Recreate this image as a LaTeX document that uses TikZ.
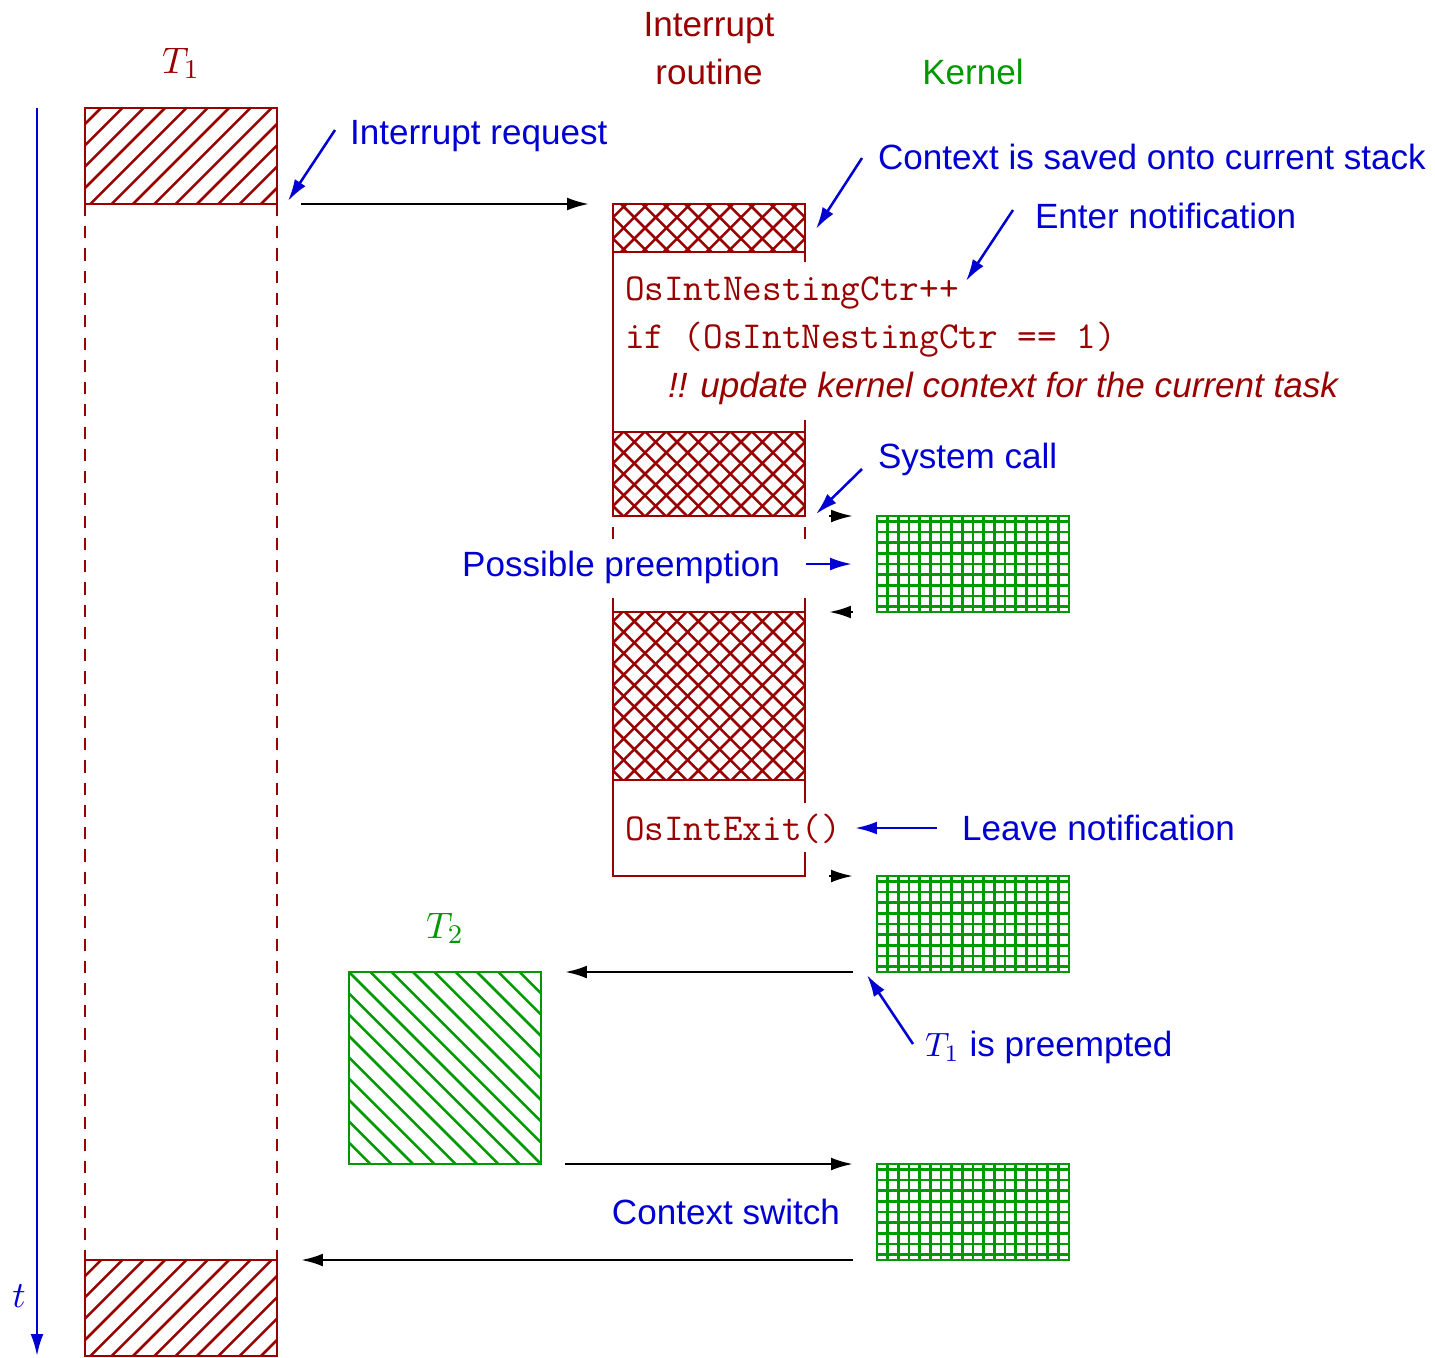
\documentclass[tikz,border=0pt]{standalone}
\usepackage[no-math]{fontspec}
\newfontfamily\labelfont{Liberation Sans}
\usetikzlibrary{arrows.meta,calc}

\definecolor{irqred}{RGB}{153,0,0}
\definecolor{kergreen}{RGB}{0,153,0}
\definecolor{noteblue}{RGB}{0,0,210}

% hatch fillers, drawn inside a node's path picture (coordinates in px, y downwards)
\newcommand\risinglines[1]{%
  \foreach \k in {-12,...,12}{%
    \draw[#1,line width=0.75pt,shift={(path picture bounding box.center)}]
      (\k*21.33-150,150) -- (\k*21.33+150,-150);}}
\newcommand\fallinglines[1]{%
  \foreach \k in {-12,...,12}{%
    \draw[#1,line width=0.75pt,shift={(path picture bounding box.center)}]
      (\k*21.33-150,-150) -- (\k*21.33+150,150);}}
\newcommand\gridlines[1]{%
  \foreach \k in {-10,...,10}{%
    \draw[#1,line width=0.75pt,shift={(path picture bounding box.center)}]
      (\k*10.667,-110) -- (\k*10.667,110);
    \draw[#1,line width=0.75pt,shift={(path picture bounding box.center)}]
      (-110,\k*10.667) -- (110,\k*10.667);}}

\tikzset{
  every node/.style={inner sep=0pt, outer sep=0pt},
  lbl/.style={font=\labelfont\fontsize{10.4}{12.5}\selectfont},
  note/.style={lbl, text=noteblue},
  slanted/.style={font=\labelfont\itshape\fontsize{10.4}{12.5}\selectfont, text=irqred},
  code/.style={font=\ttfamily\fontsize{11.3}{13}\selectfont, text=irqred},
  mathlbl/.style={font=\fontsize{11}{13}\selectfont},
  tip/.style={-{Latex[length=6.5pt,width=3.8pt]}},
  flow/.style={tip, line width=0.75pt, black},
  pointer/.style={tip, line width=0.75pt, noteblue},
  taskbox/.style={draw=irqred, line width=0.85pt, minimum width=2cm, minimum height=1cm,
    path picture={\risinglines{irqred}}},
  isrbox/.style={draw=irqred, line width=0.85pt, minimum width=2cm,
    path picture={\risinglines{irqred}\fallinglines{irqred}}},
  kernelbox/.style={draw=kergreen, line width=0.85pt, minimum width=2cm, minimum height=1cm,
    path picture={\gridlines{kergreen}}},
  otherbox/.style={draw=kergreen, line width=0.85pt, minimum width=2cm, minimum height=2cm,
    path picture={\fallinglines{kergreen}}},
  edge/.style={irqred, line width=0.85pt},
  lifeline/.style={irqred, line width=0.85pt, dash pattern=on 3.6pt off 3pt},
}

\begin{document}
\begin{tikzpicture}[x=0.0104167cm, y=-0.0104167cm]
\useasboundingbox (0,0) rectangle (1435,1357);

% column titles
\node[mathlbl, text=irqred, anchor=base] (t1-title) at (181,73) {$T_1$};
\node[lbl, text=irqred, anchor=base] (isr-title1) at (709,36) {Interrupt};
\node[lbl, text=irqred, anchor=base] (isr-title2) at (709,84) {routine};
\node[lbl, text=kergreen, anchor=base] (ker-title) at (973,84) {Kernel};

% time axis
\coordinate (time-start) at (37,108);
\coordinate (time-end) at (37,1356);
\draw[pointer] (time-start) -- (time-end);
\node[mathlbl, text=noteblue, anchor=base] (time-label) at (19,1307) {$t$};

% task T1
\node[taskbox] (t1-top) at (181,156) {};
\node[taskbox] (t1-bottom) at (181,1308) {};
\draw[lifeline] (t1-top.south west) -- (t1-bottom.north west);
\draw[lifeline] (t1-top.south east) -- (t1-bottom.north east);

% interrupt routine
\node[isrbox, minimum height=0.5cm] (isr-save) at (709,228) {};
\node[isrbox, minimum height=0.875cm] (isr-body) at (709,474) {};
\node[isrbox, minimum height=1.75cm] (isr-rest) at (709,696) {};
\draw[edge] (isr-save.south west) -- (isr-body.north west);
\draw[edge] (isr-save.south east) -- ++(0,10);
\draw[edge] (isr-body.north east) -- ++(0,-12);
\draw[edge] ($(isr-body.south west)+(0,11)$) -- ++(0,12);
\draw[edge] ($(isr-body.south east)+(0,11)$) -- ++(0,12);
\draw[edge] (isr-rest.north west) -- ++(0,-14);
\draw[edge] (isr-rest.north east) -- ++(0,-14);
\coordinate (isr-end) at ($(isr-rest.south east)+(0,96)$);
\draw[edge] (isr-rest.south west) |- (isr-end) -- ++(0,-24);
\draw[edge] (isr-rest.south east) -- ++(0,23);

% routine code
\node[code, anchor=base west] (code-inc) at (625,300) {OsIntNestingCtr++};
\node[code, anchor=base west] (code-if) at (625,348) {if (OsIntNestingCtr == 1)};
\node[slanted, anchor=base west] (code-comment) at (668,397) {!! update kernel context for the current task};
\node[code, anchor=base west] (code-exit) at (625,840) {OsIntExit()};

% kernel and task T2
\node[kernelbox] (ker-call) at (973,564) {};
\node[kernelbox] (ker-exit) at (973,924) {};
\node[kernelbox] (ker-switch) at (973,1212) {};
\node[otherbox] (t2) at (445,1068) {};
\node[mathlbl, text=kergreen, anchor=base] (t2-title) at (445,938) {$T_2$};

% control flow
\coordinate (irq-a) at (301,204);   \coordinate (irq-b) at (589,204);
\coordinate (call-a) at (829,516);  \coordinate (call-b) at (853,516);
\coordinate (ret-a) at (853,612);   \coordinate (ret-b) at (829,612);
\coordinate (exit-a) at (829,876);  \coordinate (exit-b) at (853,876);
\coordinate (to-t2-a) at (853,972); \coordinate (to-t2-b) at (565,972);
\coordinate (from-t2-a) at (565,1164); \coordinate (from-t2-b) at (853,1164);
\coordinate (to-t1-a) at (853,1260); \coordinate (to-t1-b) at (301,1260);
\draw[flow] (irq-a) -- (irq-b);
\draw[flow] (call-a) -- (call-b);
\draw[flow] (ret-a) -- (ret-b);
\draw[flow] (exit-a) -- (exit-b);
\draw[flow] (to-t2-a) -- (to-t2-b);
\draw[flow] (from-t2-a) -- (from-t2-b);
\draw[flow] (to-t1-a) -- (to-t1-b);

% annotations
\node[note, anchor=base west] (irq-note) at (350,144) {Interrupt request};
\node[note, anchor=base west] (save-note) at (878,169) {Context is saved onto current stack};
\node[note, anchor=base west] (enter-note) at (1035,228) {Enter notification};
\node[note, anchor=base west] (call-note) at (878,468) {System call};
\node[note, anchor=base east] (preempt-note) at (780,576) {Possible preemption};
\node[note, anchor=base west] (leave-note) at (962,840) {Leave notification};
\node[note, anchor=base west] (t1p-note) at (925,1056) {$T_1$ is preempted};
\node[note, anchor=base east] (switch-note) at (840,1224) {Context switch};

\coordinate (irq-p1) at (335,130);   \coordinate (irq-p2) at (288,201);
\coordinate (save-p1) at (862,158);  \coordinate (save-p2) at (816,229);
\coordinate (enter-p1) at (1013,210); \coordinate (enter-p2) at (966,281);
\coordinate (call-p1) at (862,469);  \coordinate (call-p2) at (816,514);
\coordinate (pre-p1) at (806,564);   \coordinate (pre-p2) at (852,564);
\coordinate (leave-p1) at (937,828); \coordinate (leave-p2) at (855,828);
\coordinate (t1p-p1) at (913,1044);  \coordinate (t1p-p2) at (867,975);
\draw[pointer] (irq-p1) -- (irq-p2);
\draw[pointer] (save-p1) -- (save-p2);
\draw[pointer] (enter-p1) -- (enter-p2);
\draw[pointer] (call-p1) -- (call-p2);
\draw[pointer] (pre-p1) -- (pre-p2);
\draw[pointer] (leave-p1) -- (leave-p2);
\draw[pointer] (t1p-p1) -- (t1p-p2);
\end{tikzpicture}
\end{document}
